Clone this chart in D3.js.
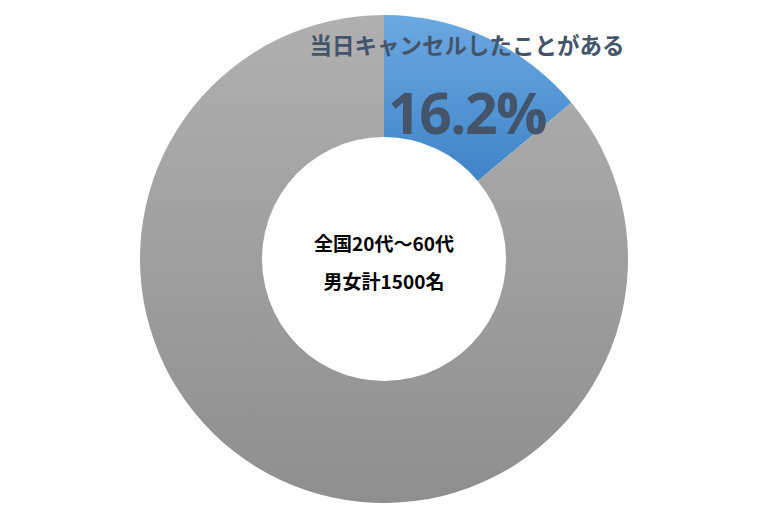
<!DOCTYPE html>
<html><head><meta charset="utf-8">
<script src="https://cdn.jsdelivr.net/npm/d3@7"></script>
<style>body{margin:0;background:#fff}svg{display:block}</style>
</head><body>
<svg id="c" width="760" height="509"></svg>
<script>
const categories = ["当日キャンセルしたことがある", "全体"];
const values = [16.2, 100];
const labelValue = 16.2;
const centerLines = ["全国20代〜60代", "男女計1500名"];

const svg = d3.select("#c");
const cx = 384, cy = 259, R = 244, r = 122;
const defs = svg.append("defs");
const grads = [
  {id: "gBlue", top: "#6ca8e2", bot: "#3e84c8"},
  {id: "gGray", top: "#b0b0b0", bot: "#8e8e8e"}
];
grads.forEach(g => {
  const lg = defs.append("linearGradient").attr("id", g.id)
    .attr("x1", 0).attr("y1", 0).attr("x2", 0).attr("y2", 1);
  lg.append("stop").attr("offset", 0).attr("stop-color", g.top);
  lg.append("stop").attr("offset", 1).attr("stop-color", g.bot);
});
const pie = d3.pie().sort(null).value(d => d);
const arc = d3.arc().innerRadius(r).outerRadius(R);
const g = svg.append("g").attr("transform", `translate(${cx},${cy})`);
g.selectAll("path").data(pie(values)).join("path")
  .attr("d", arc)
  .attr("fill", (d, i) => `url(#${grads[i].id})`);

svg.append("text").attr("x", 467).attr("y", 54).attr("text-anchor", "middle")
  .attr("font-family", "'Noto Sans CJK JP', sans-serif").attr("font-weight", 700)
  .attr("font-size", 22.5).attr("fill", "#44546a").text(categories[0]);
svg.append("text").attr("x", 467).attr("y", 134).attr("text-anchor", "middle")
  .attr("font-family", "'Open Sans', sans-serif").attr("font-weight", 700)
  .attr("font-size", 57).attr("letter-spacing", -1.5).attr("fill", "#44546a").text(labelValue + "%");
centerLines.forEach((t, i) => {
  svg.append("text").attr("x", cx).attr("y", 251 + i * 38).attr("text-anchor", "middle")
    .attr("font-family", "'Noto Sans CJK JP', sans-serif").attr("font-weight", 700)
    .attr("font-size", 19).attr("fill", "#000").text(t);
});
</script>
</body></html>
